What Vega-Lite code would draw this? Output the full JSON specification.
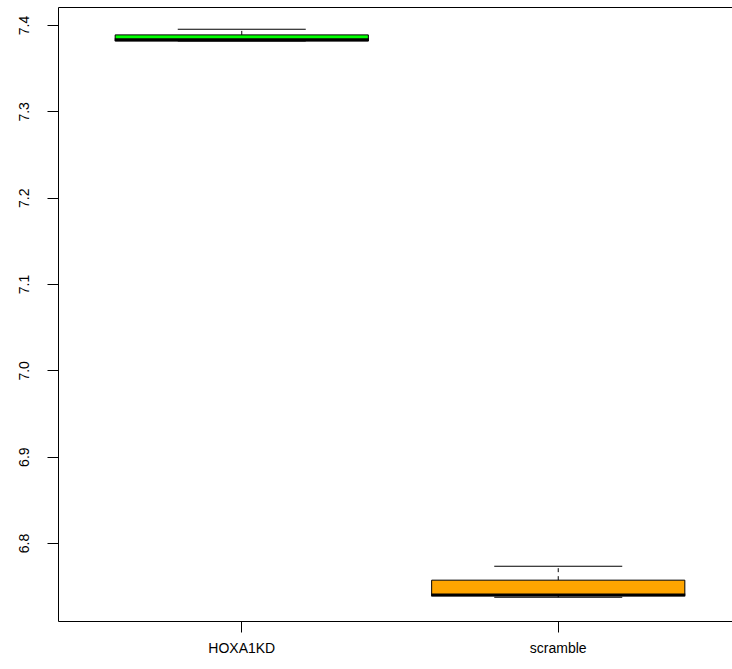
{
  "$schema": "https://vega.github.io/schema/vega-lite/v6.json",
  "autosize": "none",
  "padding": {"left": 58, "top": 7, "right": 0, "bottom": 48},
  "width": 684,
  "height": 614,
  "background": "white",
  "config": {
    "view": {"stroke": "black", "strokeWidth": 1},
    "axis": {"grid": false, "domain": false, "tickColor": "black", "tickWidth": 1, "tickSize": 11,
      "labelFont": "Liberation Sans", "labelFontSize": 14, "labelColor": "black", "title": null}
  },
  "data": {"values": [
    {"group": "HOXA1KD", "min": 7.3815, "q1": 7.3815, "median": 7.3829, "q3": 7.3886, "max": 7.395},
    {"group": "scramble", "min": 6.7372, "q1": 6.7388, "median": 6.7398, "q3": 6.7569, "max": 6.7731}
  ]},
  "encoding": {
    "x": {"field": "group", "type": "nominal",
      "scale": {"type": "band", "domain": ["HOXA1KD", "scramble"], "paddingInner": 0, "paddingOuter": 0.0806},
      "axis": {"labelAngle": 0, "labelBaseline": "top", "labelPadding": 9}}
  },
  "layer": [
    {"mark": {"type": "rule", "color": "black", "strokeWidth": 1, "strokeDash": [4, 4]},
     "encoding": {
       "y": {"field": "min", "type": "quantitative",
         "scale": {"domain": [6.7096, 7.4209], "nice": false, "zero": false},
         "axis": {"values": [6.8, 6.9, 7.0, 7.1, 7.2, 7.3, 7.4], "format": ".1f", "labelAngle": 270,
           "labelAlign": "center", "labelBaseline": "alphabetic", "labelPadding": 19}},
       "y2": {"field": "q1"}}},
    {"mark": {"type": "rule", "color": "black", "strokeWidth": 1, "strokeDash": [4, 4]},
     "encoding": {"y": {"field": "q3", "type": "quantitative"}, "y2": {"field": "max"}}},
    {"mark": {"type": "tick", "color": "black", "size": 128, "thickness": 1, "opacity": 1},
     "encoding": {"y": {"field": "min", "type": "quantitative"}}},
    {"mark": {"type": "tick", "color": "black", "size": 128, "thickness": 1, "opacity": 1},
     "encoding": {"y": {"field": "max", "type": "quantitative"}}},
    {"mark": {"type": "bar", "stroke": "black", "strokeWidth": 1, "width": {"band": 0.8}, "opacity": 1},
     "encoding": {
       "y": {"field": "q1", "type": "quantitative"}, "y2": {"field": "q3"},
       "fill": {"field": "group", "type": "nominal",
         "scale": {"domain": ["HOXA1KD", "scramble"], "range": ["#00FF00", "#FFA500"]}, "legend": null}}},
    {"mark": {"type": "tick", "color": "black", "size": 254, "thickness": 3, "opacity": 1},
     "encoding": {"y": {"field": "median", "type": "quantitative"}}}
  ]
}
